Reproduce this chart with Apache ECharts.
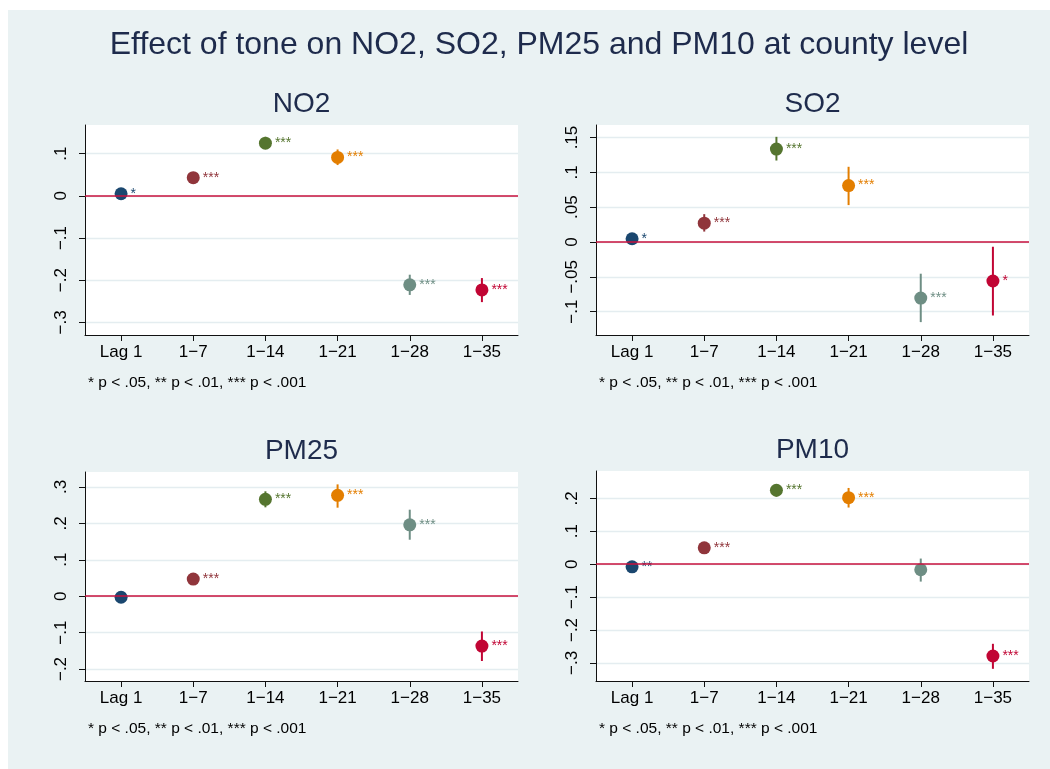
<!DOCTYPE html>
<html>
<head>
<meta charset="utf-8">
<script src="https://cdn.jsdelivr.net/npm/echarts@6/dist/echarts.min.js"></script>
<style>
html,body{margin:0;padding:0;background:#ffffff;}
#chart{width:1050px;height:769px;}
</style>
</head>
<body>
<div id="chart"></div>
<script>
const categories = ['Lag 1', '1−7', '1−14', '1−21', '1−28', '1−35'];
const pointColors = ['#1a476f', '#90353b', '#55752f', '#e37e00', '#6e8e84', '#c10534'];

const no2Est = [0.005, 0.043, 0.125, 0.091, -0.211, -0.223];
const no2Lo = [0.001, 0.037, 0.111, 0.073, -0.235, -0.252];
const no2Hi = [0.009, 0.049, 0.140, 0.110, -0.187, -0.195];
const no2Stars = ['*', '***', '***', '***', '***', '***'];
const no2Ticks = [-0.3, -0.2, -0.1, 0, 0.1];

const so2Est = [0.0047, 0.027, 0.1335, 0.081, -0.0805, -0.056];
const so2Lo = [0.002, 0.015, 0.117, 0.053, -0.115, -0.1055];
const so2Hi = [0.0075, 0.040, 0.151, 0.108, -0.0455, -0.0068];
const so2Stars = ['*', '***', '***', '***', '***', '*'];
const so2Ticks = [-0.1, -0.05, 0, 0.05, 0.1, 0.15];

const pm25Est = [-0.003, 0.047, 0.266, 0.277, 0.196, -0.137];
const pm25Lo = [-0.009, 0.039, 0.244, 0.243, 0.155, -0.178];
const pm25Hi = [0.003, 0.055, 0.288, 0.307, 0.2375, -0.097];
const pm25Stars = ['', '***', '***', '***', '***', '***'];
const pm25Ticks = [-0.2, -0.1, 0, 0.1, 0.2, 0.3];

const pm10Est = [-0.008, 0.0495, 0.2245, 0.202, -0.017, -0.279];
const pm10Lo = [-0.017, 0.040, 0.205, 0.172, -0.053, -0.318];
const pm10Hi = [0.001, 0.059, 0.243, 0.2315, 0.017, -0.242];
const pm10Stars = ['**', '***', '***', '***', '', '***'];
const pm10Ticks = [-0.3, -0.2, -0.1, 0, 0.1, 0.2];

const mainTitle = 'Effect of tone on NO2, SO2, PM25 and PM10 at county level';
const noteText = '* p < .05, ** p < .01, *** p < .001';

const panels = [
  { name: 'NO2', est: no2Est, lo: no2Lo, hi: no2Hi, stars: no2Stars, ticks: no2Ticks, min: -0.33, max: 0.168,
    grid: { left: 85, top: 125, width: 433, height: 210 } },
  { name: 'SO2', est: so2Est, lo: so2Lo, hi: so2Hi, stars: so2Stars, ticks: so2Ticks, min: -0.1335, max: 0.168,
    grid: { left: 596, top: 125, width: 433, height: 210 } },
  { name: 'PM25', est: pm25Est, lo: pm25Lo, hi: pm25Hi, stars: pm25Stars, ticks: pm25Ticks, min: -0.233, max: 0.341,
    grid: { left: 85, top: 472, width: 433, height: 209 } },
  { name: 'PM10', est: pm10Est, lo: pm10Lo, hi: pm10Hi, stars: pm10Stars, ticks: pm10Ticks, min: -0.355, max: 0.283,
    grid: { left: 596, top: 471, width: 433, height: 210 } }
];

const FONT = '"Liberation Sans", Arial, Helvetica, sans-serif';
const TEXT_COLOR = '#1e2b4c';

function fmtTick(v) {
  if (Math.abs(v) < 1e-9) return '0';
  const s = String(Math.round(Math.abs(v) * 1000) / 1000).replace(/^0/, '');
  return (v < 0 ? '−' : '') + s;
}

const chart = echarts.init(document.getElementById('chart'));

const grids = [], xAxes = [], yAxes = [], series = [], graphics = [];

graphics.push({
  type: 'rect', z: -10, silent: true,
  shape: { x: 8, y: 10, width: 1042, height: 759 },
  style: { fill: '#eaf2f3' }
});
graphics.push({
  type: 'text', silent: true,
  x: 539, y: 45,
  style: { text: mainTitle, font: '32px ' + FONT, fill: TEXT_COLOR, align: 'center', verticalAlign: 'middle' }
});

panels.forEach((p, i) => {
  grids.push(Object.assign({ show: true, backgroundColor: '#ffffff', borderWidth: 0, containLabel: false }, p.grid));
  const g = p.grid;
  graphics.push({
    type: 'text', silent: true,
    x: g.left + g.width / 2, y: g.top - 21,
    style: { text: p.name, font: '28px ' + FONT, fill: TEXT_COLOR, align: 'center', verticalAlign: 'middle' }
  });
  graphics.push({
    type: 'text', silent: true,
    x: g.left + 3, y: g.top + g.height + 48,
    style: { text: noteText, font: '15.5px ' + FONT, fill: '#000000', align: 'left', verticalAlign: 'middle' }
  });
  xAxes.push({
    type: 'category', gridIndex: i, data: categories, boundaryGap: true,
    axisLine: { show: true, onZero: false, lineStyle: { color: '#111', width: 1 } },
    axisTick: { show: true, alignWithLabel: true, length: 6, lineStyle: { color: '#111', width: 1 } },
    axisLabel: { show: true, interval: 0, margin: 9, fontSize: 17, fontFamily: FONT, color: '#000' },
    splitLine: { show: false }
  });
  yAxes.push({
    type: 'value', gridIndex: i, min: p.min, max: p.max,
    axisLine: { show: true, onZero: false, lineStyle: { color: '#111', width: 1 } },
    axisTick: { show: true, length: 6, customValues: p.ticks, lineStyle: { color: '#111', width: 1 } },
    axisLabel: { show: true, customValues: p.ticks, rotate: 90, margin: 15, fontSize: 17, fontFamily: FONT, color: '#000',
      formatter: fmtTick },
    splitLine: { show: true, lineStyle: { color: '#e4edf0', width: 1.3 } }
  });
  // zero reference line
  series.push({
    type: 'line', xAxisIndex: i, yAxisIndex: i, data: [], z: 1, silent: true,
    markLine: {
      silent: true, symbol: 'none', animation: false,
      label: { show: false },
      lineStyle: { color: '#c8103e', width: 1.6, type: 'solid' },
      data: [{ yAxis: 0 }]
    }
  });
  // confidence intervals
  series.push({
    type: 'custom', xAxisIndex: i, yAxisIndex: i, z: 3, silent: true,
    data: categories.map((c, k) => [k, p.lo[k], p.hi[k]]),
    renderItem: function (params, api) {
      const k = api.value(0);
      const a = api.coord([k, api.value(1)]);
      const b = api.coord([k, api.value(2)]);
      return {
        type: 'line',
        shape: { x1: a[0], y1: a[1], x2: b[0], y2: b[1] },
        style: { stroke: pointColors[k], lineWidth: 2 }
      };
    }
  });
  // point estimates with significance stars
  series.push({
    type: 'scatter', xAxisIndex: i, yAxisIndex: i, z: 4, silent: true,
    symbol: 'circle', symbolSize: 13,
    itemStyle: { opacity: 1 },
    data: categories.map((c, k) => ({
      value: [k, p.est[k]],
      itemStyle: { color: pointColors[k], opacity: 1 },
      label: { show: p.stars[k] !== '', formatter: p.stars[k], color: pointColors[k] }
    })),
    label: { position: 'right', distance: 3, fontSize: 14, fontFamily: FONT, offset: [0, 0] }
  });
});

chart.setOption({
  animation: false,
  backgroundColor: '#ffffff',
  grid: grids,
  xAxis: xAxes,
  yAxis: yAxes,
  series: series,
  graphic: graphics
});
</script>
</body>
</html>
